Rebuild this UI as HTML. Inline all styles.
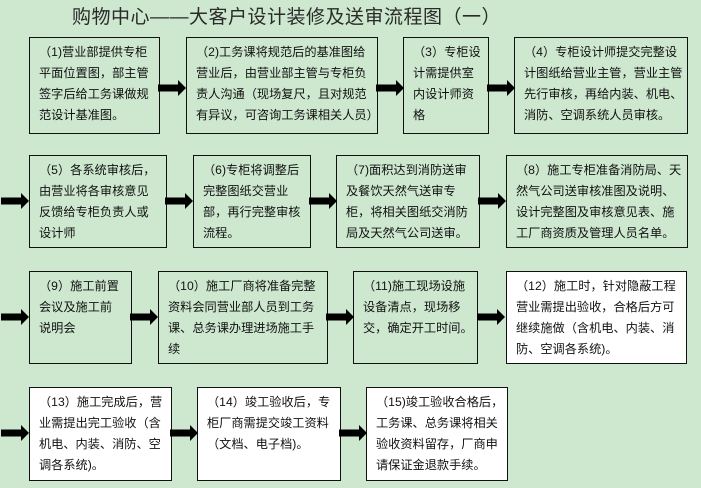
<!DOCTYPE html>
<html><head><meta charset="utf-8">
<style>
html,body{margin:0;padding:0}
body{width:701px;height:488px;background:#cde8cf;position:relative;overflow:hidden;font-family:"Liberation Serif","Noto Serif CJK SC","Noto Sans CJK SC",serif;}
.t{position:absolute;left:72px;top:2px;font-size:19px;color:#2a2a2a;white-space:nowrap;font-family:"Liberation Sans","Noto Sans CJK SC",sans-serif;letter-spacing:0.5px}
.b{position:absolute;border:1.5px solid #111;box-sizing:border-box;font-size:12.2px;line-height:21px;padding:4px 0 0 9px;white-space:nowrap;color:#111;font-family:"Liberation Sans","Noto Sans CJK SC",sans-serif}
.w{background:#fff}
svg{position:absolute;left:0;top:0}
</style></head><body>
<div class="t">购物中心——大客户设计装修及送审流程图（一）</div>

<div class="b" style="left:29px;top:37px;width:131px;height:97px">（1)营业部提供专柜<br>平面位置图，部主管<br>签字后给工务课做规<br>范设计基准图。</div>
<div class="b" style="left:186px;top:37px;width:192px;height:97px">（2)工务课将规范后的基准图给<br>营业后，由营业部主管与专柜负<br>责人沟通（现场复尺，且对规范<br>有异议，可咨询工务课相关人员）</div>
<div class="b" style="left:403px;top:37px;width:86px;height:97px">（3）专柜设<br>计需提供室<br>内设计师资<br>格</div>
<div class="b" style="left:514px;top:37px;width:174px;height:97px">（4）专柜设计师提交完整设<br>计图纸给营业主管，营业主管<br>先行审核，再给内装、机电、<br>消防、空调系统人员审核。</div>

<div class="b" style="left:29px;top:155px;width:138px;height:93px">（5）各系统审核后，<br>由营业将各审核意见<br>反馈给专柜负责人或<br>设计师</div>
<div class="b" style="left:193px;top:155px;width:118px;height:93px">（6)专柜将调整后<br>完整图纸交营业<br>部，再行完整审核<br>流程。</div>
<div class="b" style="left:336px;top:155px;width:144px;height:93px">（7)面积达到消防送审<br>及餐饮天然气送审专<br>柜，将相关图纸交消防<br>局及天然气公司送审。</div>
<div class="b" style="left:506px;top:155px;width:182px;height:93px">（8）施工专柜准备消防局、天<br>然气公司送审核准图及说明、<br>设计完整图及审核意见表、施<br>工厂商资质及管理人员名单。</div>

<div class="b" style="left:29px;top:271px;width:103px;height:93px">（9）施工前置<br>会议及施工前<br>说明会</div>
<div class="b" style="left:158px;top:271px;width:170px;height:93px">（10）施工厂商将准备完整<br>资料会同营业部人员到工务<br>课、总务课办理进场施工手<br>续</div>
<div class="b" style="left:353px;top:271px;width:125px;height:93px">（11)施工现场设施<br>设备清点，现场移<br>交，确定开工时间。</div>
<div class="b w" style="left:506px;top:271px;width:181px;height:93px">（12）施工时，针对隐蔽工程<br>营业需提出验收，合格后方可<br>继续施做（含机电、内装、消<br>防、空调各系统)。</div>

<div class="b w" style="left:29px;top:387px;width:143px;height:94px">（13）施工完成后，营<br>业需提出完工验收（含<br>机电、内装、消防、空<br>调各系统)。</div>
<div class="b w" style="left:197px;top:387px;width:144px;height:94px">（14）竣工验收后，专<br>柜厂商需提交竣工资料<br>（文档、电子档)。</div>
<div class="b w" style="left:366px;top:387px;width:142px;height:94px">（15)竣工验收合格后，<br>工务课、总务课将相关<br>验收资料留存，厂商申<br>请保证金退款手续。</div>

<svg width="701" height="488" viewBox="0 0 701 488">
<defs><g id="a"><rect x="0" y="-3.5" width="21" height="7" fill="#000"/><polygon points="20,-8 28,0 20,8" fill="#000"/></g></defs>
<use href="#a" x="158" y="88"/>
<use href="#a" x="376" y="88"/>
<use href="#a" x="487" y="88"/>
<use href="#a" x="1" y="201"/>
<use href="#a" x="165" y="201"/>
<use href="#a" x="309" y="201"/>
<use href="#a" x="478" y="201"/>
<use href="#a" x="1" y="317"/>
<use href="#a" x="130" y="317"/>
<use href="#a" x="326" y="317"/>
<use href="#a" x="477" y="317"/>
<use href="#a" x="1" y="433"/>
<use href="#a" x="170" y="433"/>
<use href="#a" x="339" y="433"/>
</svg>
</body></html>
